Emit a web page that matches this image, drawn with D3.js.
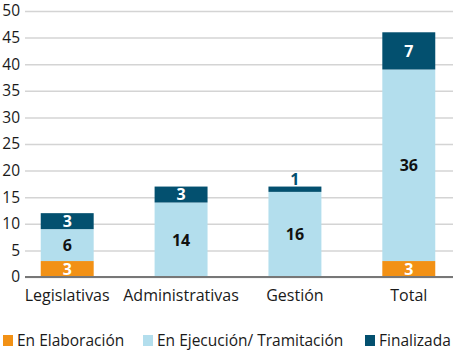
<html>
<head>
<script src="https://d3js.org/d3.v7.min.js"></script>
<style>
  body { margin: 0; background: #fff; }
  text { font-family: "Open Sans", Lato, sans-serif; }
  .grid line { stroke: #d4d4d4; stroke-width: 1.5px; }
  .grid path { display: none; }
</style>
</head>
<body>
<script>
var categories = ["Legislativas", "Administrativas", "Gestión", "Total"];
var elaboracion = [3, 0, 0, 3];
var ejecucion = [6, 14, 16, 36];
var finalizada = [3, 3, 1, 7];
var seriesNames = ["En Elaboración", "En Ejecución/ Tramitación", "Finalizada"];
var colors = ["#f29115", "#b3deed", "#03506f"];
var yTicks = [0, 5, 10, 15, 20, 25, 30, 35, 40, 45, 50];

var width = 453, height = 353;
var margin = {top: 11, right: 0, bottom: 76, left: 25};

var svg = d3.select("body").append("svg")
  .attr("width", width).attr("height", height);

var rows = categories.map(function(c, i) {
  return {cat: c, e: elaboracion[i], j: ejecucion[i], f: finalizada[i]};
});
var stack = d3.stack().keys(["e", "j", "f"])(rows);

var x = d3.scaleBand().domain(categories)
  .range([10, 466]).paddingInner(0.535).paddingOuter(0.27);
var y = d3.scaleLinear().domain([0, 50]).range([height - margin.bottom, margin.top]);

// gridlines
svg.append("g").attr("class", "grid")
  .attr("transform", "translate(" + margin.left + ",0)")
  .call(d3.axisLeft(y).tickValues(yTicks).tickSize(-(width - margin.left)).tickFormat(""));

// y labels
svg.append("g").selectAll("text").data(yTicks).join("text")
  .attr("x", 20).attr("y", function(d) { return y(d); })
  .attr("dy", "0.35em").attr("text-anchor", "end")
  .attr("font-size", 15.5).attr("fill", "#1a1a1a")
  .text(function(d) { return d; });

// bars
var layers = svg.append("g").selectAll("g").data(stack).join("g")
  .attr("fill", function(d, i) { return colors[i]; });
layers.selectAll("rect").data(function(d) { return d; }).join("rect")
  .attr("x", function(d) { return x(d.data.cat); })
  .attr("width", x.bandwidth())
  .attr("y", function(d) { return y(d[1]); })
  .attr("height", function(d) { return y(d[0]) - y(d[1]); });

// value labels
stack.forEach(function(layer, li) {
  layer.forEach(function(d) {
    var v = d[1] - d[0];
    if (v <= 0) return;
    var small = (y(d[0]) - y(d[1])) < 10;
    var cy = small ? y(d[1]) - 7 : (y(d[0]) + y(d[1])) / 2;
    var fill = li === 1 ? "#111" : (small ? colors[2] : "#fff");
    svg.append("text")
      .attr("x", x(d.data.cat) + x.bandwidth() / 2)
      .attr("y", cy).attr("dy", "0.36em")
      .attr("text-anchor", "middle")
      .attr("font-size", 16).attr("font-weight", "bold")
      .attr("fill", fill).text(v);
  });
});

// x axis line
svg.append("line")
  .attr("x1", margin.left).attr("x2", width)
  .attr("y1", y(0)).attr("y2", y(0))
  .attr("stroke", "#777").attr("stroke-width", 2);

// category labels
svg.append("g").selectAll("text").data(categories).join("text")
  .attr("x", function(d) { return x(d) + x.bandwidth() / 2; })
  .attr("y", 301).attr("text-anchor", "middle")
  .attr("font-size", 16).attr("fill", "#1a1a1a")
  .text(function(d) { return d; });

// legend
var legendX = [3, 143, 365];
var leg = svg.append("g").selectAll("g").data(seriesNames).join("g")
  .attr("transform", function(d, i) { return "translate(" + legendX[i] + ",335)"; });
leg.append("rect").attr("width", 10).attr("height", 11)
  .attr("fill", function(d, i) { return colors[i]; });
leg.append("text").attr("x", 14).attr("y", 11)
  .attr("font-size", 15.5).attr("fill", "#1a1a1a")
  .text(function(d) { return d; });
</script>
</body>
</html>
